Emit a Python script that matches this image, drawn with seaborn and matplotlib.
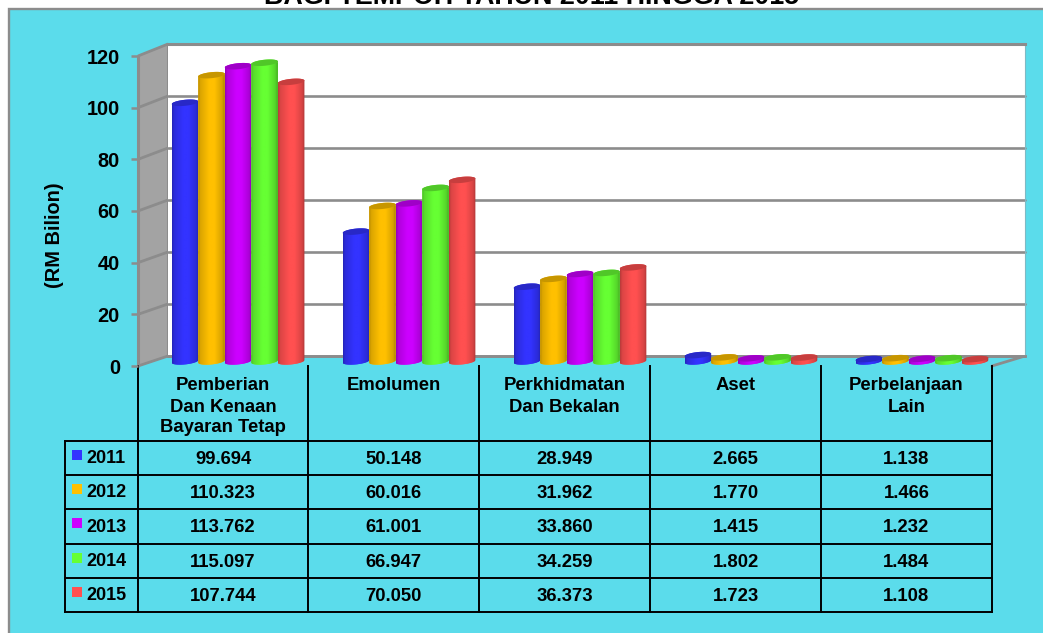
import numpy as np
import pandas as pd
import matplotlib
matplotlib.use("Agg")
import matplotlib.pyplot as plt
from matplotlib.patches import Polygon, Rectangle
from matplotlib.colors import to_rgb
import seaborn as sns

categories = ["Pemberian\nDan Kenaan\nBayaran Tetap", "Emolumen", "Perkhidmatan\nDan Bekalan", "Aset", "Perbelanjaan\nLain"]
years = ["2011", "2012", "2013", "2014", "2015"]
v2011 = [99.694, 50.148, 28.949, 2.665, 1.138]
v2012 = [110.323, 60.016, 31.962, 1.770, 1.466]
v2013 = [113.762, 61.001, 33.860, 1.415, 1.232]
v2014 = [115.097, 66.947, 34.259, 1.802, 1.484]
v2015 = [107.744, 70.050, 36.373, 1.723, 1.108]
series = [v2011, v2012, v2013, v2014, v2015]
colors = ["#3333FF", "#FFC000", "#CC00FF", "#66FF33", "#FF5050"]
y_ticks = [0, 20, 40, 60, 80, 100, 120]
title = "BAGI TEMPOH TAHUN 2011 HINGGA 2015"
y_label = "(RM Bilion)"

W, H = 1043, 633
CYAN, GRAY, WALL = "#5BDCEB", "#8C8C8C", "#A3A3A3"

sns.set_theme(style="white")
plt.rcParams["font.family"] = ["Liberation Sans", "DejaVu Sans"]
plt.rcParams["font.weight"] = "bold"

fig = plt.figure(figsize=(W / 100, H / 100), dpi=100, facecolor="white")


def axes_px(x0, ytop, x1, ybot, z):
    return fig.add_axes([x0 / W, 1 - ybot / H, (x1 - x0) / W, (ybot - ytop) / H], zorder=z)


# Background layer in pixel coordinates: frame, side wall, floor, table
bg = axes_px(0, 0, W, H, 0)
bg.set_xlim(0, W)
bg.set_ylim(H, 0)
bg.set_axis_off()
bg.add_patch(Rectangle((8, 9), W - 8, H - 9, fc=CYAN, ec="none"))
bg.plot([8.5, 8.5, W], [H, 8.5, 8.5], color=GRAY, lw=1.7, solid_joinstyle="miter")
bg.text(532, 3.5, title, ha="center", va="baseline", fontsize=19.4, fontweight="bold", color="black")

FL, FR, BL, BR = 138, 992, 168, 1025
FY0, FY120, BY0, BY120 = 366, 56, 356, 44
bg.add_patch(Polygon([(FL, FY120), (BL, BY120), (BL, BY0), (FL, FY0)], fc=WALL, ec="none"))
for t in y_ticks:
    fy = FY0 + (FY120 - FY0) * t / 120
    by = BY0 + (BY120 - BY0) * t / 120
    bg.plot([FL, BL], [fy, by], color=GRAY, lw=2.0, solid_capstyle="butt")
bg.plot([FL, FL], [FY120, FY0], color=GRAY, lw=2.2)
bg.plot([BL, BL], [BY120, BY0], color=GRAY, lw=1.5)
bg.plot([FR, BR], [FY0, BY0], color=GRAY, lw=2.0)

# Data table
col_x = [138, 308, 479, 650, 821, 992]
row_y = [441, 475, 509, 544, 578, 612]
LX = 65
for x in col_x:
    bg.plot([x, x], [FY0, row_y[-1]], color="black", lw=1.4, solid_capstyle="projecting")
bg.plot([LX, LX], [row_y[0], row_y[-1]], color="black", lw=1.4, solid_capstyle="projecting")
for y in row_y:
    bg.plot([LX, col_x[-1]], [y, y], color="black", lw=1.4, solid_capstyle="projecting")
for i, c in enumerate(categories):
    cx = (col_x[i] + col_x[i + 1]) / 2
    for j, line in enumerate(c.split("\n")):
        bg.text(cx, 386 + j * 21, line, ha="center", va="center", fontsize=13.3, fontweight="bold", color="black")
for r, (yr, vals, col) in enumerate(zip(years, series, colors)):
    ym = (row_y[r] + row_y[r + 1]) / 2
    bg.add_patch(Rectangle((72, ym - 8.5), 10, 10, fc=col, ec="none"))
    bg.text(86, ym + 0.5, yr, ha="left", va="center", fontsize=13.0, fontweight="bold", color="black")
    for i, v in enumerate(vals):
        cx = (col_x[i] + col_x[i + 1]) / 2
        bg.text(cx, ym + 1.5, f"{v:.3f}", ha="center", va="center", fontsize=13.3, fontweight="bold", color="black")

# Back wall with gridlines
wall = axes_px(BL, BY120, BR, BY0, 1)
wall.set_xlim(0, 1)
wall.set_ylim(0, 120)
wall.set_facecolor("white")
wall.set_xticks([])
wall.set_yticks(y_ticks)
wall.tick_params(left=False, labelleft=False)
wall.grid(axis="y", color=GRAY, lw=1.9, clip_on=False)
wall.set_axisbelow(True)
for s in wall.spines.values():
    s.set_visible(False)
wall.spines["top"].set_visible(True)
wall.spines["top"].set_color(GRAY)
wall.spines["top"].set_linewidth(2.2)
wall.spines["right"].set_visible(True)
wall.spines["right"].set_color("#7FB9C4")
wall.spines["right"].set_linewidth(0.8)
wall.spines["bottom"].set_visible(True)
wall.spines["bottom"].set_color(GRAY)
wall.spines["bottom"].set_linewidth(2.0)

# Front value axis
tick_ax = axes_px(FL, FY120, FL + 10, FY0, 2)
tick_ax.patch.set_alpha(0)
tick_ax.set_ylim(0, 120)
tick_ax.set_xticks([])
tick_ax.set_yticks(y_ticks)
tick_ax.tick_params(axis="y", left=True, length=5, width=1.8, color=GRAY, pad=8, labelsize=14.4, labelcolor="black")
for s in tick_ax.spines.values():
    s.set_visible(False)
fig.text(55 / W, 1 - 235 / H, y_label, rotation=90, ha="center", va="center", fontsize=14.4, fontweight="bold", color="black")

# Bars
df = pd.DataFrame({
    "category": [c for _ in years for c in categories],
    "year": [y for y in years for _ in categories],
    "value": [v for s in series for v in s],
})
PX_Y = 120 / 312          # data units per pixel, vertical
AX0, AX1 = 152.6, 1007.4
ax = axes_px(AX0, 50, AX1, 368, 3)
sns.barplot(data=df, x="category", y="value", hue="year", order=categories, hue_order=years,
            palette=colors, width=0.776, gap=0, saturation=1, legend=False, ax=ax, linewidth=0)
YLOW = -6 * PX_Y
ax.set_xlim(-0.5, 4.5)
ax.set_ylim(YLOW, 120)
ax.set_axis_off()

EH, TILT = 3.0 * PX_Y, 1.3 * PX_Y
t_up = np.linspace(np.pi, 0, 40)
t_dn = np.linspace(0, -np.pi, 40)
prof_x = np.array([0.0, 0.08, 0.42, 0.62, 0.9, 1.0])
prof_k = np.array([0.72, 0.86, 1.00, 1.00, 0.84, 0.68])
xs = np.linspace(0, 1, 64)
shade = np.interp(xs, prof_x, prof_k)

z = 10
for cont, col in zip(ax.containers, colors):
    base = np.array(to_rgb(col))
    grad = (base[None, None, :] * shade[None, :, None]).clip(0, 1)
    for p in cont:
        x0, w, top = p.get_x(), p.get_width(), p.get_height()
        cx, rx = x0 + w / 2, w / 2
        upper = np.c_[cx + rx * np.cos(t_up), top + EH * np.sin(t_up) + TILT * np.cos(t_up)]
        lower = np.c_[cx + rx * np.cos(t_dn), EH * 0.2 + EH * np.sin(t_dn) + TILT * np.cos(t_dn)]
        body = Polygon(np.r_[upper, lower], closed=True, transform=ax.transData, fc="none", ec="none")
        ax.add_patch(body)
        p.set_y(YLOW)
        p.set_height(top - YLOW)
        p.set_clip_path(body)
        p.set_zorder(z)
        img = ax.imshow(grad, extent=[x0, x0 + w, YLOW, top + 2], aspect="auto", zorder=z + 0.1, interpolation="bilinear")
        img.set_clip_path(body)
        t_all = np.linspace(0, 2 * np.pi, 60)
        cap = np.c_[cx + rx * np.cos(t_all), top + EH * np.sin(t_all) + TILT * np.cos(t_all)]
        ax.add_patch(Polygon(cap, closed=True, fc=base * 0.78, ec="none", zorder=z + 0.2))
        z += 1
ax.set_xlim(-0.5, 4.5)
ax.set_ylim(YLOW, 120)

fig.savefig("out.png", dpi=100, facecolor="white")
